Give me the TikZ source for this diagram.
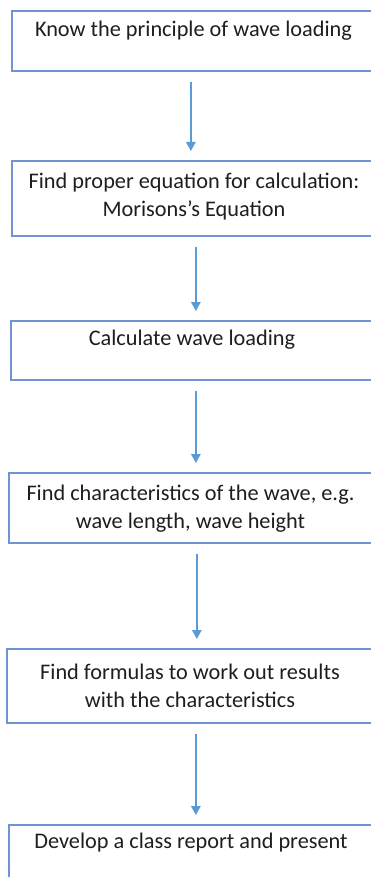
\documentclass[tikz,border=0pt]{standalone}
\usepackage{fontspec}
\setmainfont{Carlito}
\usetikzlibrary{arrows.meta}
\definecolor{boxline}{RGB}{114,147,210}
\definecolor{arrline}{RGB}{91,155,213}
\definecolor{txtcol}{RGB}{30,30,30}
\begin{document}
\begin{tikzpicture}[x=1pt,y=-1pt,
  box/.style={draw=boxline,line width=1.7pt,rectangle,anchor=north west,inner sep=0pt},
  txt/.style={align=center,text=txtcol,font=\fontsize{22.3}{28.5}\selectfont,inner sep=0pt},
  arr/.style={draw=arrline,line width=1.5pt,-{Triangle[length=9pt,width=9.5pt]},shorten <=10pt,shorten >=9pt}]
\useasboundingbox (0,0) rectangle (371,877);
\node[box,minimum width=369pt,minimum height=60pt] (b1) at (11,10) {};
\node[box,minimum width=369pt,minimum height=75pt] (b2) at (11,160) {};
\node[box,minimum width=370pt,minimum height=59pt] (b3) at (10,320) {};
\node[box,minimum width=372pt,minimum height=70pt] (b4) at (8,472) {};
\node[box,minimum width=374pt,minimum height=74pt] (b5) at (6,648) {};
\node[box,minimum width=372pt,minimum height=80pt] (b6) at (8,824) {};
\node[txt] (t1) at (193.5,31) {Know the principle of wave loading};
\node[txt] (t2) at (194,196.5) {Find proper equation for calculation:\\Morisons’s Equation};
\node[txt] (t3) at (192,340) {Calculate wave loading};
\node[txt] (t4) at (190.5,508.5) {Find characteristics of the wave, e.g.\\wave length, wave height};
\node[txt] (t5) at (190,686) {Find formulas to work out results\\with the characteristics};
\node[txt] (t6) at (191,843) {Develop a class report and present};
\draw[arr] ([xshift=-5.5pt]b1.south) -- ([xshift=-5.5pt]b1.south |- b2.north);
\draw[arr] ([xshift=-0.5pt]b2.south) -- ([xshift=-0.5pt]b2.south |- b3.north);
\draw[arr] ([xshift=0pt]b3.south) -- ([xshift=0pt]b3.south |- b4.north);
\draw[arr] ([xshift=2pt]b4.south) -- ([xshift=2pt]b4.south |- b5.north);
\draw[arr] ([xshift=2pt]b5.south) -- ([xshift=2pt]b5.south |- b6.north);
\end{tikzpicture}
\end{document}
